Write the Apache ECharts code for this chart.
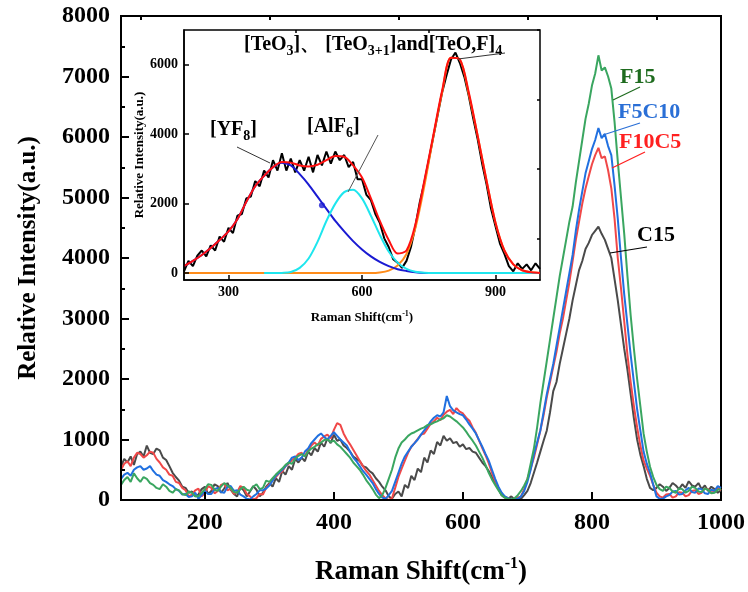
<!DOCTYPE html>
<html>
<head>
<meta charset="utf-8">
<script src="https://cdn.jsdelivr.net/npm/echarts@6/dist/echarts.min.js"></script>
<style>html,body{margin:0;padding:0;background:#fff}#c{width:748px;height:592px}</style>
</head>
<body>
<div id="c"></div>
<script>
// ---- Main spectra (Raman shift, cm-1), step 5 ----
const shift = [70,75,80,85,90,95,100,105,110,115,120,125,130,135,140,145,150,155,160,165,170,175,180,185,190,195,200,205,210,215,220,225,230,235,240,245,250,255,260,265,270,275,280,285,290,295,300,305,310,315,320,325,330,335,340,345,350,355,360,365,370,375,380,385,390,395,400,405,410,415,420,425,430,435,440,445,450,455,460,465,470,475,480,485,490,495,500,505,510,515,520,525,530,535,540,545,550,555,560,565,570,575,580,585,590,595,600,605,610,615,620,625,630,635,640,645,650,655,660,665,670,675,680,685,690,695,700,705,710,715,720,725,730,735,740,745,750,755,760,765,770,775,780,785,790,795,800,805,810,815,820,825,830,835,840,845,850,855,860,865,870,875,880,885,890,895,900,905,910,915,920,925,930,935,940,945,950,955,960,965,970,975,980,985,990,995,1000];
const c15 = [550,680,620,720,580,760,800,720,900,780, 760,850,820,700,660,560,450,380,320,220, 200,120,140,60,90,180,220,100,150,260, 230,120,190,280,170,100,60,210,160,60, 140,230,170,60,120,220,280,220,360,300, 480,420,560,500,680,620,700,640,800,740, 860,800,950,880,1020,940,1080,980,1000,900, 860,800,720,680,640,560,540,480,440,360, 300,220,160,60,20,100,140,60,250,200, 400,330,520,460,700,620,820,760,960,900, 1060,980,1020,940,960,880,920,840,860,800, 780,700,620,560,480,380,280,180,80,40, 20,60,10,40,20,80,150,280,450,620, 800,980,1150,1450,1800,1950,2250,2500,2750,3000, 3300,3550,3800,3950,4150,4250,4380,4450,4520,4400, 4300,4150,4000,3650,3300,2900,2500,2150,1750,1350, 1000,750,560,350,200,160,200,260,220,150, 200,280,240,180,260,200,310,240,220,280, 180,240,150,220,180,120,160];
const f10c5 = [500,600,640,560,700,780,760,700,740,800, 780,680,620,540,500,420,400,300,280,200, 160,60,90,160,190,60,110,230,200,110, 150,250,270,160,190,100,130,230,200,100, 60,10,30,100,90,200,260,330,380,440, 470,560,600,660,700,760,780,720,830,900, 950,900,1010,1050,1080,1020,1160,1270,1240,1100, 1000,920,830,740,650,560,480,420,330,240, 150,80,30,0,30,200,380,520,650,780, 880,940,1010,1080,1100,1180,1260,1300,1360,1320, 1410,1460,1490,1420,1520,1460,1430,1360,1310,1200, 1110,980,860,740,610,450,310,200,100,50, 30,0,20,40,60,180,350,520,700,920, 1150,1400,1700,1950,2200,2450,2750,3000,3300,3600, 3950,4300,4600,4900,5150,5350,5550,5700,5820,5650, 5680,5450,5150,4650,4000,3500,2950,2400,1950,1550, 1200,900,650,520,400,250,120,60,40,90, 100,40,60,130,120,60,80,150,160,100, 120,190,180,120,140,200,160];
const f5c10 = [350,420,450,400,500,540,560,500,520,560, 480,420,400,330,300,260,230,180,150,90, 100,50,60,120,20,80,150,100,100,180, 200,130,120,220,230,150,160,90,60,20, 10,60,100,160,160,190,240,320,400,450, 500,560,620,700,720,660,700,800,850,940, 1000,1060,1100,1040,1000,1060,1120,1060,1000,950, 900,800,700,640,560,480,420,350,280,180, 100,40,20,80,150,300,450,600,720,800, 880,940,1000,1080,1150,1220,1300,1360,1400,1380, 1450,1720,1550,1480,1450,1420,1400,1330,1250,1180, 1100,990,880,760,650,500,350,220,120,60, 30,10,10,20,60,150,300,500,750,950, 1150,1450,1750,2000,2250,2550,2850,3150,3450,3750, 4050,4450,4800,5100,5400,5600,5800,5950,6150,5980, 6050,5850,5700,5200,4650,4000,3400,2900,2400,1950, 1500,1150,800,600,450,250,60,20,20,60, 80,140,150,90,100,160,200,130,120,190, 180,110,100,170,150,230,200];
const f15 = [250,330,380,300,440,360,300,380,350,280, 250,200,180,260,220,150,120,180,160,100, 80,140,120,60,60,120,180,260,250,170, 150,220,280,240,200,130,120,180,220,170, 150,220,260,180,200,320,300,360,420,470, 520,580,620,600,680,730,760,720,800,850, 880,920,950,990,1000,960,980,920,880,820, 760,700,620,560,500,420,330,260,180,90, 30,80,200,350,500,700,850,950,1000,1060, 1100,1120,1150,1180,1200,1240,1250,1280,1300,1330, 1350,1400,1380,1340,1300,1250,1200,1130,1050,980, 900,800,700,580,450,340,250,160,80,40, 20,10,30,80,150,240,350,600,850,1200, 1600,1950,2300,2650,3000,3350,3700,4000,4300,4600, 4850,5250,5600,5950,6300,6550,6850,7050,7350,7100, 7150,7000,6800,6250,5600,5000,4400,3700,3050,2500, 2000,1550,1100,800,550,380,250,180,150,220, 200,140,120,190,180,120,150,220,200,140, 130,190,170,110,120,170,180];
const mainSeriesNames = ['C15','F10C5','F5C10','F15'];
const mainXLabels = [200,400,600,800,1000];
const mainXMinor = [100,300,500,700,900];

// ---- Inset: measured spectrum and Gaussian fit components ----
const insetShift = [200,210,220,230,240,250,260,270,280,290,300,310,320,330,340,350,360,370,380,390,400,410,420,430,440,450,460,470,480,490,500,510,520,530,540,550,560,570,580,590,600,610,620,630,640,650,660,670,680,690,700,710,720,730,740,750,760,770,780,790,800,810,820,830,840,850,860,870,880,890,900,910,920,930,940,950,960,970,980,990,1000];
const insetMeasured = [50,350,200,500,650,480,800,650,1050,900, 1300,1150,1650,1700,2150,2200,2650,2500,2950,2750, 3250,2950,3450,2950,3300,2900,3250,2950,3350,2900, 3400,3100,3500,3150,3500,3250,3400,3050,3200,2700, 2700,2250,2100,1700,1450,1000,750,400,300,150, 350,750,1350,2050,2600,3250,3900,4550,5200,5700, 6150,6350,6050,5650,5100,4450,3850,3150,2550,1850, 1350,850,550,200,50,280,120,250,80,280, 120];
const fitShift = [200,220,240,260,280,300,320,340,360,380,400,420,440,460,480,500,520,540,560,580,600,620,640,660,680,700,720,740,760,780,800,820,840,860,880,900,920,940,960,980,1000];
const fitYF8 = [200,350,520,720,950,1200,1550,2050,2500,2800,3050,3180,3100,2850,2550,2200,1850,1500,1200,920,680,480,320,200,110,60,25,5,0,0,0,0,0,0,0,0,0,0,0,0,0];
const fitAlF6 = [null,null,null,null,null,null,null,null,null,0,0,5,30,150,420,900,1500,2000,2330,2400,2150,1650,1100,620,300,120,40,10,0,0,0,0,0,0,0,0,0,0,0,0,0];
const fitTeO = [0,0,0,0,0,0,0,0,0,0,0,0,0,0,0,0,0,0,0,0,0,0,15,70,220,550,1300,2500,3900,5200,6200,6150,5150,3950,2650,1450,650,250,80,20,0];
const fitSum = [200,350,520,720,950,1200,1550,2050,2500,2800,3050,3200,3180,3100,3070,3120,3250,3370,3350,3100,2750,2150,1500,950,560,650,1400,2650,3950,5250,6200,6150,5200,3950,2650,1450,650,250,80,20,5];
const yf8Marker = [[510, 1950]];
const insetXLabels = [300,600,900];
const insetXMinor = [450,750];
const insetYLabels = [0,2000,4000,6000];
const insetYMinor = [1000,3000,5000,7000];

const SERIF = '"Liberation Serif","Times New Roman",serif';
const pair = (xs, ys) => xs.map((x, i) => [x, ys[i]]);
const plain = v => String(v);

const chart = echarts.init(document.getElementById('c'), null, {renderer: 'canvas'});

const mainColors = ['#4a4a4a', '#f04848', '#2070e0', '#3aa660'];
const mainData = [c15, f10c5, f5c10, f15];

const series = [];
mainData.forEach((d, i) => {
  series.push({
    name: mainSeriesNames[i], type: 'line', xAxisIndex: 0, yAxisIndex: 0,
    data: pair(shift, d), showSymbol: false, smooth: false,
    lineStyle: {color: mainColors[i], width: 2}, itemStyle: {color: mainColors[i]}, z: 2 + i
  });
});
series.push({type: 'line', xAxisIndex: 2, yAxisIndex: 2, data: pair(insetShift, insetMeasured),
  showSymbol: false, lineStyle: {color: '#000', width: 2}, z: 10});
series.push({type: 'line', xAxisIndex: 2, yAxisIndex: 2, data: pair(fitShift, fitTeO),
  showSymbol: false, smooth: 0.3, lineStyle: {color: '#ff8c1a', width: 2}, z: 11});
series.push({type: 'line', xAxisIndex: 2, yAxisIndex: 2, data: pair(fitShift, fitYF8),
  showSymbol: false, smooth: 0.3, lineStyle: {color: '#1a1ad2', width: 2}, z: 12});
series.push({type: 'line', xAxisIndex: 2, yAxisIndex: 2, data: pair(fitShift, fitAlF6),
  showSymbol: false, smooth: 0.3, connectNulls: false, lineStyle: {color: '#1ee6ee', width: 2}, z: 13});
series.push({type: 'line', xAxisIndex: 2, yAxisIndex: 2, data: pair(fitShift, fitSum),
  showSymbol: false, smooth: 0.3, lineStyle: {color: '#ff1010', width: 2}, z: 14});
series.push({type: 'scatter', xAxisIndex: 2, yAxisIndex: 2, data: yf8Marker,
  symbolSize: 6, itemStyle: {color: '#1a1ad2'}, z: 15});

const bigLabel = {fontFamily: SERIF, fontWeight: 'bold', fontSize: 24, color: '#000', formatter: plain};
const smallLabel = {fontFamily: SERIF, fontWeight: 'bold', fontSize: 14, color: '#000', formatter: plain};
const mainLine = {show: true, onZero: false, lineStyle: {color: '#000', width: 2}};
const insetLine = {show: true, onZero: false, lineStyle: {color: '#000', width: 1.5}};
const hiddenLine = {show: false, onZero: false};
const subRich = (size, sub, lh) => ({
  a: {fontFamily: SERIF, fontWeight: 'bold', fontSize: size, color: '#000', lineHeight: lh},
  b: {fontFamily: SERIF, fontWeight: 'bold', fontSize: sub, color: '#000', verticalAlign: 'top', lineHeight: lh}
});
const annoRich = {
  a: {fontFamily: SERIF, fontWeight: 'bold', fontSize: 20, fill: '#000', lineHeight: 26},
  s: {fontFamily: SERIF, fontWeight: 'bold', fontSize: 14, fill: '#000', verticalAlign: 'bottom', lineHeight: 26}
};

const option = {
  animation: false,
  backgroundColor: '#fff',
  grid: [
    {left: 121, top: 16, width: 601, height: 484, show: true, borderColor: '#000', borderWidth: 2, backgroundColor: 'transparent'},
    {left: 184, top: 30, width: 356, height: 250, show: true, borderColor: '#000', borderWidth: 1.5, backgroundColor: '#fff', z: 8}
  ],
  xAxis: [
    {type: 'value', gridIndex: 0, min: 70, max: 1000, z: 20,
     axisLine: mainLine, splitLine: {show: false},
     axisTick: {show: true, inside: true, length: 8, customValues: mainXLabels, lineStyle: {color: '#000', width: 2}},
     axisLabel: Object.assign({margin: 11, customValues: mainXLabels}, bigLabel),
     name: '{a|Raman Shift(cm}{b|-1}{a|)}', nameLocation: 'middle', nameGap: 56,
     nameTextStyle: {rich: subRich(27, 16, 32)}},
    {type: 'value', gridIndex: 0, min: 70, max: 1000, z: 20,
     axisLine: hiddenLine, splitLine: {show: false}, axisLabel: {show: false},
     axisTick: {show: true, inside: true, length: 4, customValues: mainXMinor, lineStyle: {color: '#000', width: 2}}},
    {type: 'value', gridIndex: 1, min: 200, max: 1000, z: 20,
     axisLine: insetLine, splitLine: {show: false},
     axisTick: {show: true, inside: true, length: 5, customValues: insetXLabels, lineStyle: {color: '#000', width: 1.5}},
     axisLabel: Object.assign({margin: 5, customValues: insetXLabels}, smallLabel),
     name: '{a|Raman Shift(cm}{b|-1}{a|)}', nameLocation: 'middle', nameGap: 30,
     nameTextStyle: {rich: subRich(13, 8, 16)}},
    {type: 'value', gridIndex: 1, min: 200, max: 1000, z: 20,
     axisLine: hiddenLine, splitLine: {show: false}, axisLabel: {show: false},
     axisTick: {show: true, inside: true, length: 3, customValues: insetXMinor, lineStyle: {color: '#000', width: 1.5}}}
  ],
  yAxis: [
    {type: 'value', gridIndex: 0, min: 0, max: 8000, interval: 1000, z: 20,
     axisLine: mainLine, splitLine: {show: false},
     axisTick: {show: true, inside: true, length: 8, lineStyle: {color: '#000', width: 2}},
     minorTick: {show: true, splitNumber: 2, length: 4, lineStyle: {color: '#000', width: 2}},
     axisLabel: Object.assign({margin: 11, showMinLabel: true, showMaxLabel: true}, bigLabel),
     name: 'Relative Intensity(a.u.)', nameLocation: 'middle', nameGap: 80,
     nameTextStyle: {fontFamily: SERIF, fontWeight: 'bold', fontSize: 25, color: '#000'}},
    {type: 'value', gridIndex: 0, min: 0, max: 8000, show: false},
    {type: 'value', gridIndex: 1, min: -200, max: 7000, z: 20,
     axisLine: insetLine, splitLine: {show: false},
     axisTick: {show: true, inside: true, length: 5, customValues: insetYLabels, lineStyle: {color: '#000', width: 1.5}},
     axisLabel: Object.assign({margin: 6, customValues: insetYLabels}, smallLabel),
     name: 'Relative Intensity(a.u.)', nameLocation: 'middle', nameGap: 36,
     nameTextStyle: {fontFamily: SERIF, fontWeight: 'bold', fontSize: 13, color: '#000'}},
    {type: 'value', gridIndex: 1, min: -200, max: 7000, z: 20,
     axisLine: hiddenLine, splitLine: {show: false}, axisLabel: {show: false},
     axisTick: {show: true, inside: true, length: 3, customValues: insetYMinor, lineStyle: {color: '#000', width: 1.5}}}
  ],
  series: series,
  graphic: [
    // main-chart labels
    {type: 'line', z: 50, shape: {x1: 613, y1: 100, x2: 640, y2: 87}, style: {stroke: '#1e6b1e', lineWidth: 1.2}},
    {type: 'text', z: 50, style: {text: 'F15', x: 620, y: 77, textVerticalAlign: 'middle', fill: '#1e6b1e', font: 'bold 22px ' + SERIF}},
    {type: 'line', z: 50, shape: {x1: 603, y1: 135, x2: 640, y2: 123}, style: {stroke: '#2a6fd6', lineWidth: 1.2}},
    {type: 'text', z: 50, style: {text: 'F5C10', x: 618, y: 112, textVerticalAlign: 'middle', fill: '#2a6fd6', font: 'bold 22px ' + SERIF}},
    {type: 'line', z: 50, shape: {x1: 612, y1: 168, x2: 645, y2: 152}, style: {stroke: '#ff2020', lineWidth: 1.2}},
    {type: 'text', z: 50, style: {text: 'F10C5', x: 619, y: 142, textVerticalAlign: 'middle', fill: '#ff2020', font: 'bold 22px ' + SERIF}},
    {type: 'line', z: 50, shape: {x1: 610, y1: 253, x2: 647, y2: 247}, style: {stroke: '#000', lineWidth: 1.2}},
    {type: 'text', z: 50, style: {text: 'C15', x: 637, y: 235, textVerticalAlign: 'middle', fill: '#000', font: 'bold 22px ' + SERIF}},
    // inset labels
    {type: 'text', z: 50, style: {
      text: '{a|[TeO}{s|3}{a|]、 [TeO}{s|3+1}{a|]and[TeO,F]}{s|4}', x: 244, y: 45, textVerticalAlign: 'middle', rich: annoRich}},
    {type: 'text', z: 50, style: {
      text: '{a|[YF}{s|8}{a|]}', x: 210, y: 130, textVerticalAlign: 'middle', rich: annoRich}},
    {type: 'text', z: 50, style: {
      text: '{a|[AlF}{s|6}{a|]}', x: 307, y: 127, textVerticalAlign: 'middle', rich: annoRich}},
    {type: 'line', z: 50, shape: {x1: 237, y1: 147, x2: 270, y2: 163}, style: {stroke: '#333', lineWidth: 1}},
    {type: 'line', z: 50, shape: {x1: 378, y1: 135, x2: 348, y2: 192}, style: {stroke: '#555', lineWidth: 1}},
    {type: 'line', z: 50, shape: {x1: 458, y1: 59, x2: 505, y2: 53}, style: {stroke: '#333', lineWidth: 1}}
  ]
};
chart.setOption(option);
</script>
</body>
</html>
